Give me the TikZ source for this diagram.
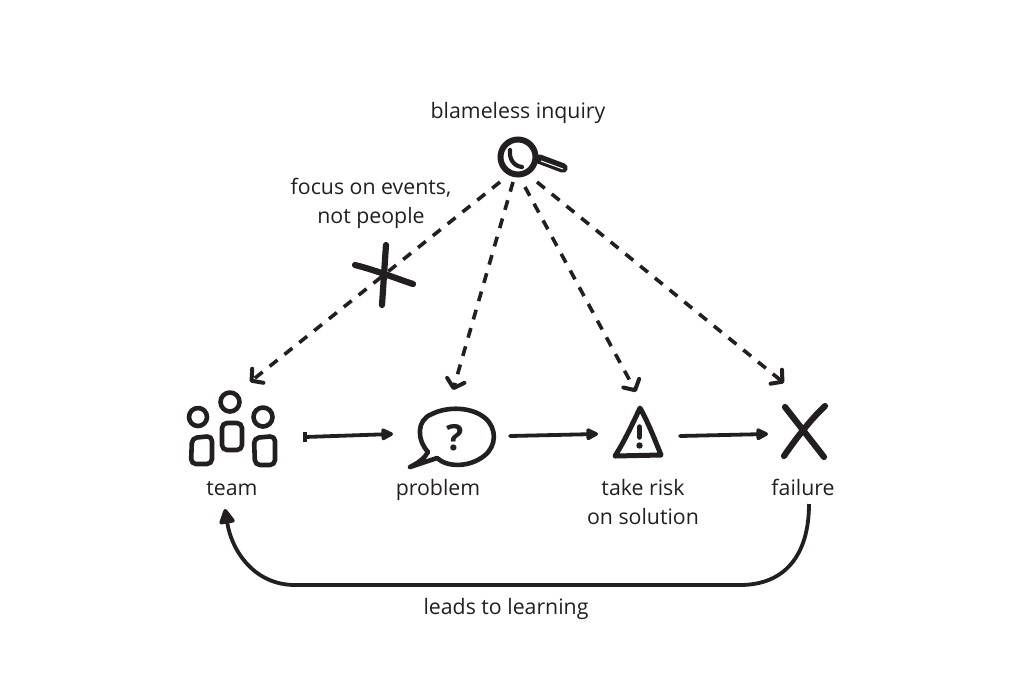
\documentclass[tikz,border=0pt]{standalone}
\usepackage{fontspec}
\setmainfont{Open Sans}
\usetikzlibrary{arrows.meta}
\definecolor{ink}{HTML}{231F20}
\tikzset{
  x=1pt,y=-1pt,
  lbl/.style={anchor=base,inner sep=0pt,text=ink,font=\fontsize{21.3}{24}\selectfont},
  hub/.style={inner sep=0pt,outer sep=0pt},
  icon/.style={draw=ink,line width=4.6pt,line cap=round,line join=round},
  thickicon/.style={draw=ink,line width=6.2pt,line cap=round,line join=round},
  flow/.style={draw=ink,line width=3.8pt,line cap=round,-{Triangle[length=14pt,width=13pt,round]}},
  probe/.style={draw=ink,line width=3.6pt,dash pattern=on 10pt off 9pt,-{Straight Barb[length=8pt,width=18pt,line width=4pt,round]}},
  loopback/.style={draw=ink,line width=3.8pt,-{Triangle[length=17pt,width=17pt,round]}}
}
\begin{document}
\begin{tikzpicture}
\useasboundingbox (0,0) rectangle (1022,681);
\fill[white] (0,0) rectangle (1022,681);
% anchor nodes
\node[hub,minimum width=40pt,minimum height=40pt] (lens) at (518,157) {};
\node[hub,minimum width=144pt,minimum height=70pt] (team) at (233,437) {};
\node[hub,minimum width=117pt,minimum height=60pt] (problem) at (451.5,434) {};
\node[hub,minimum width=82pt,minimum height=50pt] (risk) at (639,434) {};
\node[hub,minimum width=72pt,minimum height=50pt] (fail) at (804,434) {};
% labels
\node[lbl] (t1) at (518,118.5) {blameless inquiry};
\node[lbl] (t2) at (371,194.5) {focus on events,};
\node[lbl] (t3) at (371,223.5) {not people};
\node[lbl] (t4) at (232,495.5) {team};
\node[lbl] (t5) at (438,495.5) {problem};
\node[lbl] (t6) at (643,495.5) {take risk};
\node[lbl] (t7) at (643,524.5) {on solution};
\node[lbl] (t8) at (803,495.5) {failure};
\node[lbl] (t9) at (506,614.5) {leads to learning};
% connectors
\draw[probe] ([shift={(-18,25)}]lens.center) -- ([shift={(17,-55)}]team.center);
\draw[probe] ([shift={(-5,25)}]lens.center) -- ([shift={(1.5,-44)}]problem.center);
\draw[probe] ([shift={(7,30)}]lens.center) -- ([shift={(-3,-42)}]risk.center);
\draw[probe] ([shift={(19,25)}]lens.center) -- ([shift={(-20,-51)}]fail.center);
\draw[flow] (team.east) -- (problem.west);
\draw[draw=ink,line width=3.6pt] ([shift={(0,-5)}]team.east) -- ([shift={(0,5)}]team.east);
\draw[flow] ([yshift=-2pt]problem.east) -- (risk.west);
\draw[flow] ([yshift=-2pt]risk.east) -- (fail.west);
\draw[loopback] ([shift={(5,70)}]fail.center) .. controls (809,555) and (785,585) .. (740,585) -- (295,585) .. controls (255,585) and (232,552) .. ([shift={(-8,72)}]team.center);
% magnifier
\draw[draw=ink,line width=6pt] (518,157) circle (17.5);
\draw[icon,line width=4.2pt] (510,150) .. controls (509,158) and (513,166) .. (522,167);
\draw[draw=ink,line width=9.5pt,line cap=round] (539,159) -- (563,168);
\draw[draw=white,line width=1pt] (541,161) -- (563,169);
% cross
\draw[thickicon] (355,265) .. controls (375,270) and (395,278) .. (413,284);
\draw[thickicon] (386,245) -- (382,305);
% team
\draw[icon] (198,417) circle (9);
\draw[icon] (230,402) circle (9.5);
\draw[icon] (263,417) circle (9.5);
\draw[icon,rounded corners=5pt] (192,438) -- (212,436) -- (212,464) -- (191,464) -- cycle;
\draw[icon,rounded corners=5pt] (222,423) -- (242,423) -- (242,450) -- (222,450) -- cycle;
\draw[icon,rounded corners=5pt] (254,438) -- (275,436) -- (275,465) -- (255,465) -- cycle;
% speech bubble
\draw[icon] (428,452) .. controls (417,440) and (416,420) .. (432,414) .. controls (448,406) and (472,407) .. (485,418) .. controls (497,428) and (497,446) .. (484,456) .. controls (470,467) and (448,468) .. (437,458) -- (410,467) .. controls (418,463) and (425,458) .. (428,452) -- cycle;
\node[hub,text=ink,font=\fontsize{36}{36}\selectfont\bfseries] (qm) at (455.5,438) {?};
% warning
\draw[icon,line width=5pt] (640,408) .. controls (632,425) and (624,442) .. (615,456) -- (661,455) .. controls (655,440) and (648,422) .. (640,408) -- cycle;
\draw[draw=ink,line width=5.5pt,line cap=round] (639.5,427) -- (639.5,437);
\fill[ink] (639.5,445.5) circle (3.2);
% failure
\draw[thickicon] (785,407) -- (824,457);
\draw[thickicon] (825,406) .. controls (810,420) and (795,440) .. (784,456);
\end{tikzpicture}
\end{document}
